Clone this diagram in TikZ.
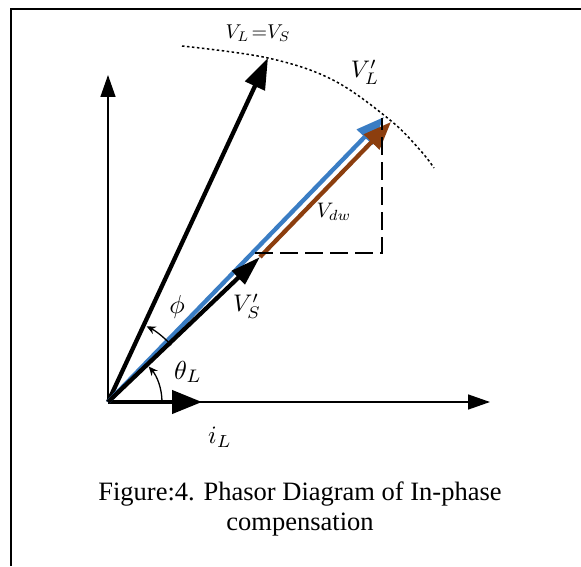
\documentclass[tikz,border=0pt]{standalone}
\usepackage{fontspec}
\newfontfamily\capfont{Liberation Serif}
\usetikzlibrary{arrows.meta}
\definecolor{phblue}{RGB}{58,125,196}
\definecolor{phbrown}{RGB}{140,62,14}
\newcommand{\mylbl}[2]{\scalebox{#1}{$#2$}}
\tikzset{
  frameln/.style={line width=2pt,black},
  axisln/.style={line width=1.5pt,-{Triangle[length=22pt,width=15pt]}},
  thickph/.style={line width=4.3pt},
  anglearc/.style={line width=1.3pt,-{Stealth[length=9pt,width=8pt]}},
  dashln/.style={line width=1.5pt,dash pattern=on 18pt off 7pt},
  dotln/.style={line width=1.5pt,dash pattern=on 2.5pt off 2.5pt},
  mathlbl/.style={inner sep=0pt},
  caplbl/.style={inner sep=0pt,anchor=base,font=\capfont\fontsize{26.5}{30}\selectfont}
}
\begin{document}
\begin{tikzpicture}[x=1pt,y=1pt]
\fill[white] (0,0) rectangle (581,566);
\useasboundingbox (0,0) rectangle (581,566);
% frame (top and left only)
\draw[frameln] (11,0) -- (11,557) -- (581,557);
% coordinates
\coordinate (O) at (108,164);
\coordinate (ytip) at (108,491);
\coordinate (xtip) at (490,164);
\coordinate (iLtip) at (202,164);
\coordinate (VLtip) at (268,508);
\coordinate (bluetip) at (384,449);
\coordinate (Vstip) at (260,309);
\coordinate (browntip) at (391,444);
\coordinate (dashL) at (255,313);
\coordinate (dashC) at (382,313);
\coordinate (dashT) at (382,448);
% axes
\draw[axisln] (O) -- (ytip);
\draw[axisln] (O) -- (xtip);
% i_L
\draw[thickph,-{Triangle[length=30pt,width=23pt]}] (O) -- (iLtip);
% V_L = V_S
\draw[thickph,-{Triangle[length=31pt,width=21pt]}] (O) -- (VLtip);
% V_L' (blue)
\draw[thickph,phblue,-{Triangle[length=28pt,width=21pt]}] (O) -- (bluetip);
% V_S'
\draw[thickph,-{Triangle[length=30pt,width=18pt]}] (O) -- (Vstip);
% V_dw (brown)
\draw[thickph,phbrown,-{Triangle[length=28pt,width=21pt]}] (Vstip) -- (browntip);
% dashed triangle
\draw[dashln] (dashL) -- (dashC) -- (dashT);
% dotted locus
\draw[dotln] plot[smooth,tension=0.6] coordinates {(182,520) (268,508) (333,486) (390,446) (420,416) (434,398)};
% angle arcs
\draw[anglearc] ([shift={(0:54pt)}]O) arc[start angle=0,end angle=41,radius=54pt];
\draw[anglearc] ([shift={(42:85pt)}]O) arc[start angle=42,end angle=63,radius=85pt];
% labels
\node[mathlbl] (lVLVS) at (258,533) {\mylbl{2}{V_L\mkern2mu{=}V_S}};
\node[mathlbl] (lVLp) at (365,494) {\mylbl{2.4}{V^{\prime}_{L}}};
\node[mathlbl] (lVdw) at (334,354) {\mylbl{2.1}{V_{dw}}};
\node[mathlbl] (lVsp) at (247,260) {\mylbl{2.4}{V^{\prime}_{S}}};
\node[mathlbl] (lphi) at (177,259) {\mylbl{2.6}{\phi}};
\node[mathlbl] (ltheta) at (188,194) {\mylbl{2.6}{\theta_L}};
\node[mathlbl] (liL) at (220,129) {\mylbl{2.5}{i_L}};
% caption
\node[caplbl] (cap1) at (300,66) {Figure:4. Phasor Diagram of In-phase};
\node[caplbl] (cap2) at (300,36) {compensation};
\end{tikzpicture}
\end{document}
